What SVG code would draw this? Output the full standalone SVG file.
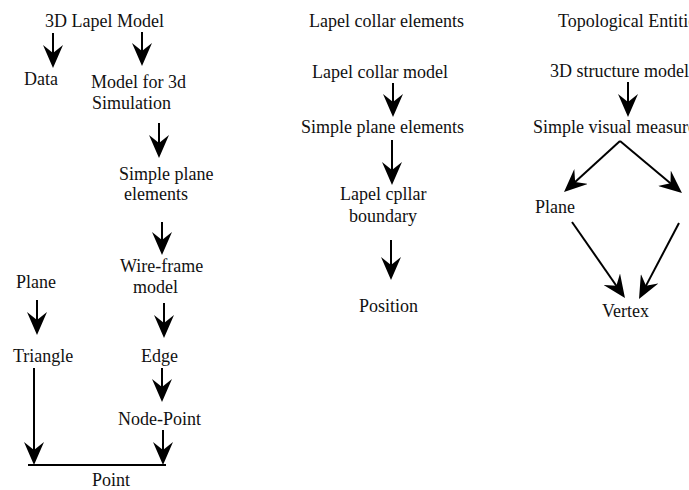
<svg xmlns="http://www.w3.org/2000/svg" width="689" height="490" viewBox="0 0 689 490">
<style>
text{font-family:"Liberation Serif","Times New Roman",serif;font-size:18px;fill:#111}
.c{stroke:#000;stroke-width:2;fill:none;marker-end:url(#ah)}
.p{stroke:#000;stroke-width:2;fill:none}
</style>
<defs>
<marker id="ah" markerUnits="userSpaceOnUse" viewBox="0 0 23 20" refX="11" refY="10" markerWidth="23" markerHeight="20" orient="auto">
<path d="M23,10 L0,0 L8,10 L0,20 Z" fill="#000"/>
</marker>
</defs>
<g id="connectors">
<path class="c" d="M53,33 V56"/>
<path class="c" d="M142,32 V54"/>
<path class="c" d="M159,123 V146"/>
<path class="c" d="M162,222 V243"/>
<path class="c" d="M37,300 V323"/>
<path class="c" d="M164,303 V326"/>
<path class="c" d="M162,368 V390"/>
<path class="c" d="M163,430 V453"/>
<path class="c" d="M34,368 V453"/>
<path class="p" d="M28,465 H166"/>
<path class="c" d="M393,83 V105"/>
<path class="c" d="M392,140 V173"/>
<path class="c" d="M391,240 V268"/>
<path class="c" d="M628,82 V105"/>
<path class="c" d="M620,141 L572.9,183.9"/>
<path class="c" d="M620,141 L672.8,185.3"/>
<path class="c" d="M572,222 L618.1,288.2"/>
<path class="c" d="M679,223 L644.6,288.4"/>
</g>
<g id="n-3d-lapel-model"><text x="45" y="27">3D Lapel Model</text></g>
<g id="n-data"><text x="24" y="85">Data</text></g>
<g id="n-model-3d"><text x="91" y="88">Model for 3d</text><text x="92" y="109">Simulation</text></g>
<g id="n-simple-plane-1"><text x="119" y="180">Simple plane</text><text x="124" y="200">elements</text></g>
<g id="n-wire-frame"><text x="120" y="272">Wire-frame</text><text x="133" y="293">model</text></g>
<g id="n-plane-1"><text x="16" y="288">Plane</text></g>
<g id="n-triangle"><text x="13" y="362">Triangle</text></g>
<g id="n-edge"><text x="141" y="362">Edge</text></g>
<g id="n-node-point"><text x="118" y="425">Node-Point</text></g>
<g id="n-point"><text x="92" y="486">Point</text></g>
<g id="n-lapel-collar-elements"><text x="309" y="27">Lapel collar elements</text></g>
<g id="n-lapel-collar-model"><text x="312" y="78">Lapel collar model</text></g>
<g id="n-simple-plane-2"><text x="301" y="133">Simple plane elements</text></g>
<g id="n-boundary"><text x="340" y="200">Lapel cpllar</text><text x="349" y="222">boundary</text></g>
<g id="n-position"><text x="359" y="312">Position</text></g>
<g id="n-topological"><text x="558" y="27">Topological Entities</text></g>
<g id="n-3d-structure"><text x="550" y="77">3D structure model</text></g>
<g id="n-simple-visual"><text x="533" y="133">Simple visual measurement</text></g>
<g id="n-plane-2"><text x="535" y="213">Plane</text></g>
<g id="n-vertex"><text x="602" y="317">Vertex</text></g>
</svg>
